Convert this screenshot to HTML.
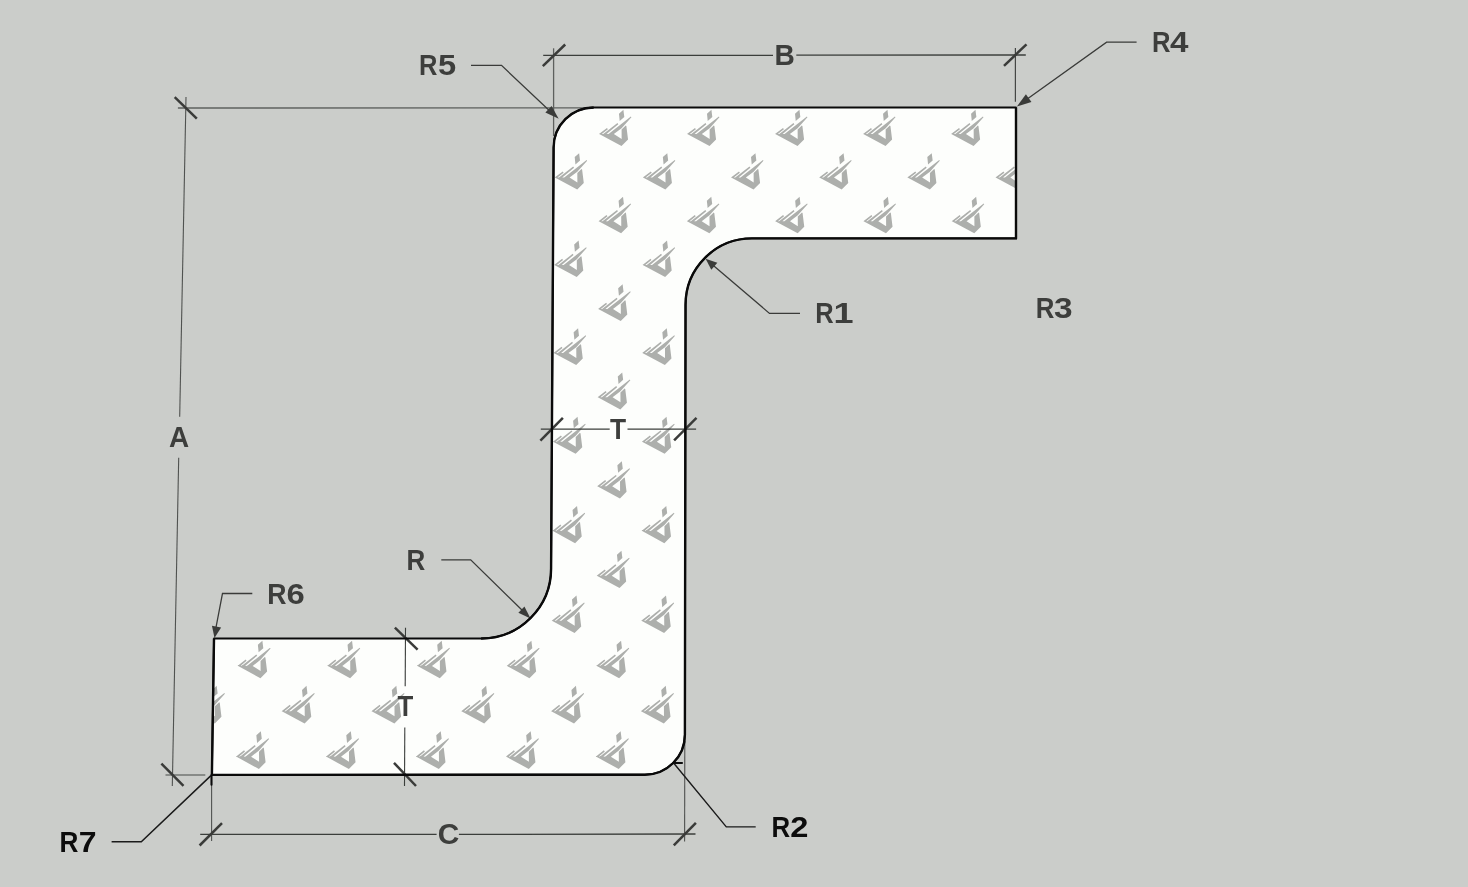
<!DOCTYPE html>
<html><head><meta charset="utf-8"><style>
html,body{margin:0;padding:0;background:#cbcdca;overflow:hidden;width:1468px;height:887px;}
svg{display:block;will-change:transform;}
text{font-family:"Liberation Sans",sans-serif;font-weight:bold;}
</style></head><body>
<svg width="1468" height="887" viewBox="0 0 1468 887">
<defs>
<path id="lg" d="M-22.32,-11.95 L0.00,0.00 L6.54,-6.45 L4.87,-19.98 L4.28,-20.52 L0.09,-16.55 L0.14,-6.99 L-7.67,-11.86 ZM-13.30,-11.77 L-7.67,-11.86 L0.09,-17.72 L9.92,-28.73 L9.38,-29.45 ZM-18.58,-11.77 L-15.24,-11.77 L-3.16,-21.78 L-4.06,-22.95 ZM-22.55,-11.86 L-19.75,-11.86 L-13.62,-16.82 L-14.52,-18.04 ZM1.89,-36.21 L2.80,-29.00 L-1.80,-24.94 L-2.53,-32.33 Z" fill="#adafac"/>
<clipPath id="cp"><path d="M593.62,107.5 L1016.0,107.5 L1016.0,238.4 L751.94,238.4 A66.4,66.4 0 0 0 685.54,304.80 L684.89,734.70 A40,40 0 0 1 644.89,774.7 L211.9,774.9000000000001 L214.0,638.5 L481.09,638.5 A70,70 0 0 0 551.09,568.50 L553.62,147.50 A40,40 0 0 1 593.62,107.5 Z"/></clipPath>
</defs>
<rect width="1468" height="887" fill="#cbcdca"/>
<path d="M593.62,107.5 L1016.0,107.5 L1016.0,238.4 L751.94,238.4 A66.4,66.4 0 0 0 685.54,304.80 L684.89,734.70 A40,40 0 0 1 644.89,774.7 L211.9,774.9000000000001 L214.0,638.5 L481.09,638.5 A70,70 0 0 0 551.09,568.50 L553.62,147.50 A40,40 0 0 1 593.62,107.5 Z" fill="#fdfefc"/>
<g clip-path="url(#cp)"><use href="#lg" transform="translate(-37.44,102.58) scale(0.9985,0.9969)"/>
<use href="#lg" transform="translate(50.45,102.58) scale(0.9985,0.9969)"/>
<use href="#lg" transform="translate(138.33,102.58) scale(0.9985,0.9969)"/>
<use href="#lg" transform="translate(226.22,102.58) scale(0.9985,0.9969)"/>
<use href="#lg" transform="translate(314.10,102.58) scale(0.9985,0.9969)"/>
<use href="#lg" transform="translate(401.99,102.58) scale(0.9985,0.9969)"/>
<use href="#lg" transform="translate(489.87,102.58) scale(0.9985,0.9969)"/>
<use href="#lg" transform="translate(577.75,102.58) scale(0.9985,0.9969)"/>
<use href="#lg" transform="translate(665.64,102.58) scale(0.9985,0.9969)"/>
<use href="#lg" transform="translate(753.52,102.58) scale(0.9985,0.9969)"/>
<use href="#lg" transform="translate(841.41,102.58) scale(0.9985,0.9969)"/>
<use href="#lg" transform="translate(929.29,102.58) scale(0.9985,0.9969)"/>
<use href="#lg" transform="translate(1017.17,102.58) scale(0.9985,0.9969)"/>
<use href="#lg" transform="translate(5.37,145.96) scale(1.0000,1.0000)"/>
<use href="#lg" transform="translate(93.39,145.96) scale(1.0000,1.0000)"/>
<use href="#lg" transform="translate(181.41,145.96) scale(1.0000,1.0000)"/>
<use href="#lg" transform="translate(269.43,145.96) scale(1.0000,1.0000)"/>
<use href="#lg" transform="translate(357.45,145.96) scale(1.0000,1.0000)"/>
<use href="#lg" transform="translate(445.46,145.96) scale(1.0000,1.0000)"/>
<use href="#lg" transform="translate(533.48,145.96) scale(1.0000,1.0000)"/>
<use href="#lg" transform="translate(621.50,145.96) scale(1.0000,1.0000)"/>
<use href="#lg" transform="translate(709.52,145.96) scale(1.0000,1.0000)"/>
<use href="#lg" transform="translate(797.54,145.96) scale(1.0000,1.0000)"/>
<use href="#lg" transform="translate(885.56,145.96) scale(1.0000,1.0000)"/>
<use href="#lg" transform="translate(973.58,145.96) scale(1.0000,1.0000)"/>
<use href="#lg" transform="translate(48.31,189.50) scale(1.0015,1.0030)"/>
<use href="#lg" transform="translate(136.46,189.50) scale(1.0015,1.0030)"/>
<use href="#lg" transform="translate(224.62,189.50) scale(1.0015,1.0030)"/>
<use href="#lg" transform="translate(312.77,189.50) scale(1.0015,1.0030)"/>
<use href="#lg" transform="translate(400.92,189.50) scale(1.0015,1.0030)"/>
<use href="#lg" transform="translate(489.08,189.50) scale(1.0015,1.0030)"/>
<use href="#lg" transform="translate(577.23,189.50) scale(1.0015,1.0030)"/>
<use href="#lg" transform="translate(665.38,189.50) scale(1.0015,1.0030)"/>
<use href="#lg" transform="translate(753.54,189.50) scale(1.0015,1.0030)"/>
<use href="#lg" transform="translate(841.69,189.50) scale(1.0015,1.0030)"/>
<use href="#lg" transform="translate(929.85,189.50) scale(1.0015,1.0030)"/>
<use href="#lg" transform="translate(1018.00,189.50) scale(1.0015,1.0030)"/>
<use href="#lg" transform="translate(3.09,233.18) scale(1.0031,1.0061)"/>
<use href="#lg" transform="translate(91.38,233.18) scale(1.0031,1.0061)"/>
<use href="#lg" transform="translate(179.67,233.18) scale(1.0031,1.0061)"/>
<use href="#lg" transform="translate(267.96,233.18) scale(1.0031,1.0061)"/>
<use href="#lg" transform="translate(356.25,233.18) scale(1.0031,1.0061)"/>
<use href="#lg" transform="translate(444.53,233.18) scale(1.0031,1.0061)"/>
<use href="#lg" transform="translate(532.82,233.18) scale(1.0031,1.0061)"/>
<use href="#lg" transform="translate(621.11,233.18) scale(1.0031,1.0061)"/>
<use href="#lg" transform="translate(709.40,233.18) scale(1.0031,1.0061)"/>
<use href="#lg" transform="translate(797.69,233.18) scale(1.0031,1.0061)"/>
<use href="#lg" transform="translate(885.98,233.18) scale(1.0031,1.0061)"/>
<use href="#lg" transform="translate(974.27,233.18) scale(1.0031,1.0061)"/>
<use href="#lg" transform="translate(46.16,277.01) scale(1.0046,1.0092)"/>
<use href="#lg" transform="translate(134.58,277.01) scale(1.0046,1.0092)"/>
<use href="#lg" transform="translate(223.01,277.01) scale(1.0046,1.0092)"/>
<use href="#lg" transform="translate(311.43,277.01) scale(1.0046,1.0092)"/>
<use href="#lg" transform="translate(399.86,277.01) scale(1.0046,1.0092)"/>
<use href="#lg" transform="translate(488.28,277.01) scale(1.0046,1.0092)"/>
<use href="#lg" transform="translate(576.71,277.01) scale(1.0046,1.0092)"/>
<use href="#lg" transform="translate(665.13,277.01) scale(1.0046,1.0092)"/>
<use href="#lg" transform="translate(753.55,277.01) scale(1.0046,1.0092)"/>
<use href="#lg" transform="translate(841.98,277.01) scale(1.0046,1.0092)"/>
<use href="#lg" transform="translate(930.40,277.01) scale(1.0046,1.0092)"/>
<use href="#lg" transform="translate(1018.83,277.01) scale(1.0046,1.0092)"/>
<use href="#lg" transform="translate(0.79,320.99) scale(1.0061,1.0123)"/>
<use href="#lg" transform="translate(89.35,320.99) scale(1.0061,1.0123)"/>
<use href="#lg" transform="translate(177.92,320.99) scale(1.0061,1.0123)"/>
<use href="#lg" transform="translate(266.48,320.99) scale(1.0061,1.0123)"/>
<use href="#lg" transform="translate(355.04,320.99) scale(1.0061,1.0123)"/>
<use href="#lg" transform="translate(443.60,320.99) scale(1.0061,1.0123)"/>
<use href="#lg" transform="translate(532.16,320.99) scale(1.0061,1.0123)"/>
<use href="#lg" transform="translate(620.72,320.99) scale(1.0061,1.0123)"/>
<use href="#lg" transform="translate(709.28,320.99) scale(1.0061,1.0123)"/>
<use href="#lg" transform="translate(797.84,320.99) scale(1.0061,1.0123)"/>
<use href="#lg" transform="translate(886.41,320.99) scale(1.0061,1.0123)"/>
<use href="#lg" transform="translate(974.97,320.99) scale(1.0061,1.0123)"/>
<use href="#lg" transform="translate(43.99,365.12) scale(1.0077,1.0155)"/>
<use href="#lg" transform="translate(132.69,365.12) scale(1.0077,1.0155)"/>
<use href="#lg" transform="translate(221.38,365.12) scale(1.0077,1.0155)"/>
<use href="#lg" transform="translate(310.08,365.12) scale(1.0077,1.0155)"/>
<use href="#lg" transform="translate(398.78,365.12) scale(1.0077,1.0155)"/>
<use href="#lg" transform="translate(487.48,365.12) scale(1.0077,1.0155)"/>
<use href="#lg" transform="translate(576.18,365.12) scale(1.0077,1.0155)"/>
<use href="#lg" transform="translate(664.87,365.12) scale(1.0077,1.0155)"/>
<use href="#lg" transform="translate(753.57,365.12) scale(1.0077,1.0155)"/>
<use href="#lg" transform="translate(842.27,365.12) scale(1.0077,1.0155)"/>
<use href="#lg" transform="translate(930.97,365.12) scale(1.0077,1.0155)"/>
<use href="#lg" transform="translate(1019.67,365.12) scale(1.0077,1.0155)"/>
<use href="#lg" transform="translate(-1.52,409.41) scale(1.0093,1.0186)"/>
<use href="#lg" transform="translate(87.32,409.41) scale(1.0093,1.0186)"/>
<use href="#lg" transform="translate(176.15,409.41) scale(1.0093,1.0186)"/>
<use href="#lg" transform="translate(264.99,409.41) scale(1.0093,1.0186)"/>
<use href="#lg" transform="translate(353.82,409.41) scale(1.0093,1.0186)"/>
<use href="#lg" transform="translate(442.66,409.41) scale(1.0093,1.0186)"/>
<use href="#lg" transform="translate(531.49,409.41) scale(1.0093,1.0186)"/>
<use href="#lg" transform="translate(620.33,409.41) scale(1.0093,1.0186)"/>
<use href="#lg" transform="translate(709.16,409.41) scale(1.0093,1.0186)"/>
<use href="#lg" transform="translate(798.00,409.41) scale(1.0093,1.0186)"/>
<use href="#lg" transform="translate(886.83,409.41) scale(1.0093,1.0186)"/>
<use href="#lg" transform="translate(975.67,409.41) scale(1.0093,1.0186)"/>
<use href="#lg" transform="translate(41.80,453.84) scale(1.0108,1.0218)"/>
<use href="#lg" transform="translate(130.78,453.84) scale(1.0108,1.0218)"/>
<use href="#lg" transform="translate(219.75,453.84) scale(1.0108,1.0218)"/>
<use href="#lg" transform="translate(308.72,453.84) scale(1.0108,1.0218)"/>
<use href="#lg" transform="translate(397.70,453.84) scale(1.0108,1.0218)"/>
<use href="#lg" transform="translate(486.67,453.84) scale(1.0108,1.0218)"/>
<use href="#lg" transform="translate(575.64,453.84) scale(1.0108,1.0218)"/>
<use href="#lg" transform="translate(664.62,453.84) scale(1.0108,1.0218)"/>
<use href="#lg" transform="translate(753.59,453.84) scale(1.0108,1.0218)"/>
<use href="#lg" transform="translate(842.56,453.84) scale(1.0108,1.0218)"/>
<use href="#lg" transform="translate(931.53,453.84) scale(1.0108,1.0218)"/>
<use href="#lg" transform="translate(1020.51,453.84) scale(1.0108,1.0218)"/>
<use href="#lg" transform="translate(-3.85,498.42) scale(1.0124,1.0249)"/>
<use href="#lg" transform="translate(85.26,498.42) scale(1.0124,1.0249)"/>
<use href="#lg" transform="translate(174.37,498.42) scale(1.0124,1.0249)"/>
<use href="#lg" transform="translate(263.48,498.42) scale(1.0124,1.0249)"/>
<use href="#lg" transform="translate(352.60,498.42) scale(1.0124,1.0249)"/>
<use href="#lg" transform="translate(441.71,498.42) scale(1.0124,1.0249)"/>
<use href="#lg" transform="translate(530.82,498.42) scale(1.0124,1.0249)"/>
<use href="#lg" transform="translate(619.93,498.42) scale(1.0124,1.0249)"/>
<use href="#lg" transform="translate(709.04,498.42) scale(1.0124,1.0249)"/>
<use href="#lg" transform="translate(798.15,498.42) scale(1.0124,1.0249)"/>
<use href="#lg" transform="translate(887.26,498.42) scale(1.0124,1.0249)"/>
<use href="#lg" transform="translate(976.38,498.42) scale(1.0124,1.0249)"/>
<use href="#lg" transform="translate(39.61,543.15) scale(1.0140,1.0281)"/>
<use href="#lg" transform="translate(128.86,543.15) scale(1.0140,1.0281)"/>
<use href="#lg" transform="translate(218.11,543.15) scale(1.0140,1.0281)"/>
<use href="#lg" transform="translate(307.36,543.15) scale(1.0140,1.0281)"/>
<use href="#lg" transform="translate(396.61,543.15) scale(1.0140,1.0281)"/>
<use href="#lg" transform="translate(485.86,543.15) scale(1.0140,1.0281)"/>
<use href="#lg" transform="translate(575.11,543.15) scale(1.0140,1.0281)"/>
<use href="#lg" transform="translate(664.36,543.15) scale(1.0140,1.0281)"/>
<use href="#lg" transform="translate(753.61,543.15) scale(1.0140,1.0281)"/>
<use href="#lg" transform="translate(842.86,543.15) scale(1.0140,1.0281)"/>
<use href="#lg" transform="translate(932.11,543.15) scale(1.0140,1.0281)"/>
<use href="#lg" transform="translate(1021.36,543.15) scale(1.0140,1.0281)"/>
<use href="#lg" transform="translate(-6.19,588.03) scale(1.0156,1.0313)"/>
<use href="#lg" transform="translate(83.20,588.03) scale(1.0156,1.0313)"/>
<use href="#lg" transform="translate(172.59,588.03) scale(1.0156,1.0313)"/>
<use href="#lg" transform="translate(261.97,588.03) scale(1.0156,1.0313)"/>
<use href="#lg" transform="translate(351.36,588.03) scale(1.0156,1.0313)"/>
<use href="#lg" transform="translate(440.75,588.03) scale(1.0156,1.0313)"/>
<use href="#lg" transform="translate(530.14,588.03) scale(1.0156,1.0313)"/>
<use href="#lg" transform="translate(619.53,588.03) scale(1.0156,1.0313)"/>
<use href="#lg" transform="translate(708.92,588.03) scale(1.0156,1.0313)"/>
<use href="#lg" transform="translate(798.31,588.03) scale(1.0156,1.0313)"/>
<use href="#lg" transform="translate(887.70,588.03) scale(1.0156,1.0313)"/>
<use href="#lg" transform="translate(977.09,588.03) scale(1.0156,1.0313)"/>
<use href="#lg" transform="translate(37.39,633.06) scale(1.0171,1.0346)"/>
<use href="#lg" transform="translate(126.92,633.06) scale(1.0171,1.0346)"/>
<use href="#lg" transform="translate(216.45,633.06) scale(1.0171,1.0346)"/>
<use href="#lg" transform="translate(305.98,633.06) scale(1.0171,1.0346)"/>
<use href="#lg" transform="translate(395.51,633.06) scale(1.0171,1.0346)"/>
<use href="#lg" transform="translate(485.04,633.06) scale(1.0171,1.0346)"/>
<use href="#lg" transform="translate(574.57,633.06) scale(1.0171,1.0346)"/>
<use href="#lg" transform="translate(664.09,633.06) scale(1.0171,1.0346)"/>
<use href="#lg" transform="translate(753.62,633.06) scale(1.0171,1.0346)"/>
<use href="#lg" transform="translate(843.15,633.06) scale(1.0171,1.0346)"/>
<use href="#lg" transform="translate(932.68,633.06) scale(1.0171,1.0346)"/>
<use href="#lg" transform="translate(1022.21,633.06) scale(1.0171,1.0346)"/>
<use href="#lg" transform="translate(-8.55,678.24) scale(1.0187,1.0378)"/>
<use href="#lg" transform="translate(81.12,678.24) scale(1.0187,1.0378)"/>
<use href="#lg" transform="translate(170.78,678.24) scale(1.0187,1.0378)"/>
<use href="#lg" transform="translate(260.45,678.24) scale(1.0187,1.0378)"/>
<use href="#lg" transform="translate(350.12,678.24) scale(1.0187,1.0378)"/>
<use href="#lg" transform="translate(439.79,678.24) scale(1.0187,1.0378)"/>
<use href="#lg" transform="translate(529.46,678.24) scale(1.0187,1.0378)"/>
<use href="#lg" transform="translate(619.13,678.24) scale(1.0187,1.0378)"/>
<use href="#lg" transform="translate(708.80,678.24) scale(1.0187,1.0378)"/>
<use href="#lg" transform="translate(798.47,678.24) scale(1.0187,1.0378)"/>
<use href="#lg" transform="translate(888.13,678.24) scale(1.0187,1.0378)"/>
<use href="#lg" transform="translate(977.80,678.24) scale(1.0187,1.0378)"/>
<use href="#lg" transform="translate(35.17,723.57) scale(1.0203,1.0411)"/>
<use href="#lg" transform="translate(124.98,723.57) scale(1.0203,1.0411)"/>
<use href="#lg" transform="translate(214.78,723.57) scale(1.0203,1.0411)"/>
<use href="#lg" transform="translate(304.59,723.57) scale(1.0203,1.0411)"/>
<use href="#lg" transform="translate(394.40,723.57) scale(1.0203,1.0411)"/>
<use href="#lg" transform="translate(484.21,723.57) scale(1.0203,1.0411)"/>
<use href="#lg" transform="translate(574.02,723.57) scale(1.0203,1.0411)"/>
<use href="#lg" transform="translate(663.83,723.57) scale(1.0203,1.0411)"/>
<use href="#lg" transform="translate(753.64,723.57) scale(1.0203,1.0411)"/>
<use href="#lg" transform="translate(843.45,723.57) scale(1.0203,1.0411)"/>
<use href="#lg" transform="translate(933.26,723.57) scale(1.0203,1.0411)"/>
<use href="#lg" transform="translate(1023.07,723.57) scale(1.0203,1.0411)"/>
<use href="#lg" transform="translate(-10.93,769.05) scale(1.0219,1.0443)"/>
<use href="#lg" transform="translate(79.02,769.05) scale(1.0219,1.0443)"/>
<use href="#lg" transform="translate(168.97,769.05) scale(1.0219,1.0443)"/>
<use href="#lg" transform="translate(258.92,769.05) scale(1.0219,1.0443)"/>
<use href="#lg" transform="translate(348.87,769.05) scale(1.0219,1.0443)"/>
<use href="#lg" transform="translate(438.82,769.05) scale(1.0219,1.0443)"/>
<use href="#lg" transform="translate(528.77,769.05) scale(1.0219,1.0443)"/>
<use href="#lg" transform="translate(618.72,769.05) scale(1.0219,1.0443)"/>
<use href="#lg" transform="translate(708.67,769.05) scale(1.0219,1.0443)"/>
<use href="#lg" transform="translate(798.62,769.05) scale(1.0219,1.0443)"/>
<use href="#lg" transform="translate(888.57,769.05) scale(1.0219,1.0443)"/>
<use href="#lg" transform="translate(978.52,769.05) scale(1.0219,1.0443)"/>
<use href="#lg" transform="translate(32.92,814.68) scale(1.0235,1.0476)"/>
<use href="#lg" transform="translate(123.02,814.68) scale(1.0235,1.0476)"/>
<use href="#lg" transform="translate(213.11,814.68) scale(1.0235,1.0476)"/>
<use href="#lg" transform="translate(303.20,814.68) scale(1.0235,1.0476)"/>
<use href="#lg" transform="translate(393.29,814.68) scale(1.0235,1.0476)"/>
<use href="#lg" transform="translate(483.38,814.68) scale(1.0235,1.0476)"/>
<use href="#lg" transform="translate(573.47,814.68) scale(1.0235,1.0476)"/>
<use href="#lg" transform="translate(663.57,814.68) scale(1.0235,1.0476)"/>
<use href="#lg" transform="translate(753.66,814.68) scale(1.0235,1.0476)"/>
<use href="#lg" transform="translate(843.75,814.68) scale(1.0235,1.0476)"/>
<use href="#lg" transform="translate(933.84,814.68) scale(1.0235,1.0476)"/>
<use href="#lg" transform="translate(1023.93,814.68) scale(1.0235,1.0476)"/></g>
<line x1="177.90" y1="108.00" x2="593.62" y2="107.90" stroke="#5e605e" stroke-width="1.4" stroke-linecap="butt"/>
<line x1="186.00" y1="97.00" x2="179.70" y2="416.70" stroke="#505250" stroke-width="1.1" stroke-linecap="butt"/>
<line x1="178.70" y1="457.70" x2="172.30" y2="786.00" stroke="#505250" stroke-width="1.1" stroke-linecap="butt"/>
<line x1="165.50" y1="775.00" x2="205.30" y2="775.00" stroke="#474a47" stroke-width="1.2" stroke-linecap="butt"/>
<line x1="174.70" y1="97.10" x2="196.80" y2="118.70" stroke="#3a3b39" stroke-width="2.5" stroke-linecap="butt"/>
<line x1="161.40" y1="763.60" x2="183.50" y2="785.90" stroke="#3a3b39" stroke-width="2.5" stroke-linecap="butt"/>
<line x1="543.20" y1="55.40" x2="773.00" y2="55.30" stroke="#3b3e3b" stroke-width="1.3" stroke-linecap="butt"/>
<line x1="796.30" y1="55.20" x2="1025.80" y2="55.00" stroke="#3b3e3b" stroke-width="1.3" stroke-linecap="butt"/>
<line x1="553.60" y1="48.30" x2="553.60" y2="136.00" stroke="#5e605e" stroke-width="1.3" stroke-linecap="butt"/>
<line x1="1015.40" y1="47.90" x2="1015.40" y2="101.70" stroke="#454745" stroke-width="1.2" stroke-linecap="butt"/>
<line x1="542.80" y1="66.20" x2="565.20" y2="44.50" stroke="#3a3b39" stroke-width="2.5" stroke-linecap="butt"/>
<line x1="1004.00" y1="65.80" x2="1026.50" y2="44.30" stroke="#3a3b39" stroke-width="2.5" stroke-linecap="butt"/>
<line x1="540.80" y1="429.20" x2="609.70" y2="429.20" stroke="#3b3e3b" stroke-width="1.2" stroke-linecap="butt"/>
<line x1="627.50" y1="429.20" x2="696.10" y2="429.20" stroke="#3b3e3b" stroke-width="1.2" stroke-linecap="butt"/>
<line x1="540.40" y1="440.60" x2="562.90" y2="417.90" stroke="#3a3b39" stroke-width="2.5" stroke-linecap="butt"/>
<line x1="674.10" y1="440.30" x2="696.50" y2="417.90" stroke="#3a3b39" stroke-width="2.5" stroke-linecap="butt"/>
<line x1="405.50" y1="627.70" x2="405.20" y2="686.20" stroke="#3b3e3b" stroke-width="1.1" stroke-linecap="butt"/>
<line x1="404.80" y1="727.40" x2="404.50" y2="786.00" stroke="#3b3e3b" stroke-width="1.1" stroke-linecap="butt"/>
<line x1="394.90" y1="627.70" x2="417.60" y2="649.70" stroke="#3a3b39" stroke-width="2.5" stroke-linecap="butt"/>
<line x1="394.00" y1="762.90" x2="416.00" y2="786.00" stroke="#3a3b39" stroke-width="2.5" stroke-linecap="butt"/>
<line x1="200.20" y1="834.40" x2="436.60" y2="834.40" stroke="#3b3e3b" stroke-width="1.3" stroke-linecap="butt"/>
<line x1="458.90" y1="834.40" x2="695.50" y2="834.00" stroke="#3b3e3b" stroke-width="1.3" stroke-linecap="butt"/>
<line x1="211.60" y1="785.00" x2="211.60" y2="841.00" stroke="#505250" stroke-width="1.1" stroke-linecap="butt"/>
<line x1="684.80" y1="741.00" x2="684.60" y2="841.50" stroke="#505250" stroke-width="1.1" stroke-linecap="butt"/>
<line x1="199.60" y1="845.50" x2="222.00" y2="823.10" stroke="#3a3b39" stroke-width="2.5" stroke-linecap="butt"/>
<line x1="673.80" y1="845.40" x2="695.90" y2="822.80" stroke="#3a3b39" stroke-width="2.5" stroke-linecap="butt"/>
<polyline points="471.00,65.40 501.50,65.40 553.00,114.00" fill="none" stroke="#3a3b39" stroke-width="1.3" stroke-linejoin="miter"/>
<path d="M558.70,118.80 L545.40,112.54 L551.54,105.96 Z" fill="#3a3b39"/>
<polyline points="1136.60,42.20 1106.60,42.20 1022.00,102.80" fill="none" stroke="#3a3b39" stroke-width="1.3" stroke-linejoin="miter"/>
<path d="M1016.90,106.60 L1025.91,94.28 L1031.45,102.00 Z" fill="#3a3b39"/>
<polyline points="800.00,313.40 769.50,313.40 711.00,263.50" fill="none" stroke="#3a3b39" stroke-width="1.3" stroke-linejoin="miter"/>
<path d="M705.60,258.70 L717.36,262.65 L711.31,269.71 Z" fill="#3a3b39"/>
<polyline points="441.30,559.90 470.70,559.90 525.00,613.00" fill="none" stroke="#3a3b39" stroke-width="1.3" stroke-linejoin="miter"/>
<path d="M530.50,618.40 L518.38,612.63 L524.46,606.41 Z" fill="#3a3b39"/>
<polyline points="252.30,593.50 222.50,593.50 215.50,630.00" fill="none" stroke="#3a3b39" stroke-width="1.3" stroke-linejoin="miter"/>
<path d="M214.50,637.90 L211.96,625.76 L221.12,627.41 Z" fill="#3a3b39"/>
<polyline points="111.60,841.80 141.30,841.80 210.90,775.60" fill="none" stroke="#1a1a1a" stroke-width="1.5" stroke-linejoin="miter"/>
<line x1="211.50" y1="775.00" x2="211.50" y2="784.80" stroke="#0a0a0a" stroke-width="2.1" stroke-linecap="round"/>
<polyline points="755.70,826.90 726.30,826.90 673.80,763.30" fill="none" stroke="#1a1a1a" stroke-width="1.4" stroke-linejoin="miter"/>
<line x1="674.40" y1="762.90" x2="682.80" y2="763.00" stroke="#0c0c0c" stroke-width="2.0" stroke-linecap="butt"/>
<path d="M593.62,107.5 L1016.0,107.5 L1016.0,238.4 L751.94,238.4 A66.4,66.4 0 0 0 685.54,304.80 L684.89,734.70 A40,40 0 0 1 644.89,774.7 L211.9,774.9000000000001 L214.0,638.5 L481.09,638.5 A70,70 0 0 0 551.09,568.50 L553.62,147.50 A40,40 0 0 1 593.62,107.5 Z" fill="none" stroke="#0a0a0a" stroke-width="1.8" stroke-linejoin="round"/>
<path d="M1016.0,107.5 L1016.0,238.4 L751.94,238.4 A66.4,66.4 0 0 0 685.54,304.80 L684.89,734.70 A40,40 0 0 1 644.89,774.7 L211.9,774.9000000000001 L214.0,638.5" fill="none" stroke="#0a0a0a" stroke-width="2.4" stroke-linejoin="round"/>
<path d="M481.09,638.5 A70,70 0 0 0 551.09,568.50 L553.62,147.50 A40,40 0 0 1 593.62,107.5" fill="none" stroke="#0a0a0a" stroke-width="2.4" stroke-linejoin="round"/>
<text transform="translate(419.10,75.2) scale(0.8643,1)" font-size="29.5" fill="#3d3e3c">R</text>
<text transform="translate(438.04,75.2) scale(1.1078,1)" font-size="29.5" fill="#3d3e3c">5</text>
<text transform="translate(1152.09,52.2) scale(0.8698,1)" font-size="29.5" fill="#3d3e3c">R</text>
<text transform="translate(1169.98,52.2) scale(1.1236,1)" font-size="29.5" fill="#3d3e3c">4</text>
<text transform="translate(815.20,323) scale(0.8643,1)" font-size="29.5" fill="#3d3e3c">R</text>
<text transform="translate(833.58,323) scale(1.2214,1)" font-size="29.5" fill="#3d3e3c">1</text>
<text transform="translate(1035.78,317.5) scale(0.8753,1)" font-size="29.5" fill="#3d3e3c">R</text>
<text transform="translate(1053.97,317.5) scale(1.1329,1)" font-size="29.5" fill="#3d3e3c">3</text>
<text transform="translate(267.22,603.9) scale(0.9030,1)" font-size="29.5" fill="#3d3e3c">R</text>
<text transform="translate(286.58,603.9) scale(1.1119,1)" font-size="29.5" fill="#3d3e3c">6</text>
<text transform="translate(59.45,851.8) scale(0.8864,1)" font-size="29.5" fill="#0c0c0c">R</text>
<text transform="translate(78.72,851.8) scale(1.0833,1)" font-size="29.5" fill="#0c0c0c">7</text>
<text transform="translate(771.58,836.8) scale(0.8753,1)" font-size="29.5" fill="#0c0c0c">R</text>
<text transform="translate(790.35,836.8) scale(1.1061,1)" font-size="29.5" fill="#0c0c0c">2</text>
<text transform="translate(406.46,570) scale(0.8809,1)" font-size="29.5" fill="#3d3e3c">R</text>
<text transform="translate(774.62,64.8) scale(0.9524,1)" font-size="29.5" fill="#3d3e3c">B</text>
<text transform="translate(168.95,447.3) scale(0.9461,1)" font-size="29.5" fill="#3d3e3c">A</text>
<text transform="translate(610.10,438.7) scale(0.8940,1)" font-size="29.5" fill="#3d3e3c">T</text>
<text transform="translate(397.62,715.9) scale(0.8755,1)" font-size="29.5" fill="#3d3e3c">T</text>
<text transform="translate(437.76,843.9) scale(1.0114,1)" font-size="29.5" fill="#3d3e3c">C</text>
</svg></body></html>
